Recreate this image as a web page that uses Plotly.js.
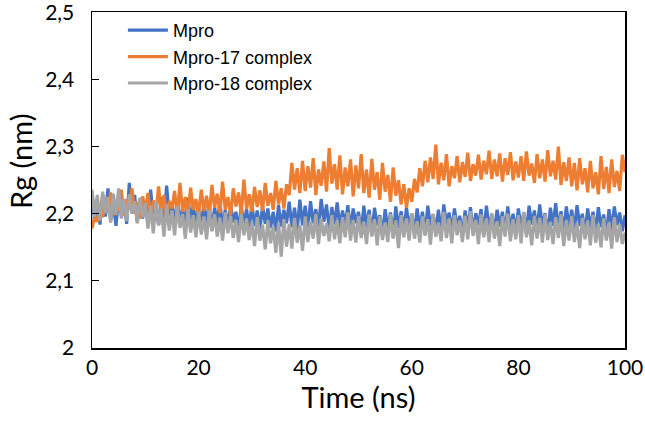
<!DOCTYPE html>
<html>
<head>
<meta charset="utf-8">
<script src="https://cdn.plot.ly/plotly-3.0.1.min.js"></script>
<style>
  body { margin: 0; background: #fff; }
  #chart { width: 645px; height: 424px; }
</style>
</head>
<body>
<div id="chart"></div>
<script>
// Rg over 100 ns, every 0.5 ns
var time = [
  0,0.5,1,1.5,2,2.5,3,3.5,4,4.5,5,5.5,6,6.5,7,7.5,8,8.5,9,9.5,
  10,10.5,11,11.5,12,12.5,13,13.5,14,14.5,15,15.5,16,16.5,17,17.5,18,18.5,19,19.5,
  20,20.5,21,21.5,22,22.5,23,23.5,24,24.5,25,25.5,26,26.5,27,27.5,28,28.5,29,29.5,
  30,30.5,31,31.5,32,32.5,33,33.5,34,34.5,35,35.5,36,36.5,37,37.5,38,38.5,39,39.5,
  40,40.5,41,41.5,42,42.5,43,43.5,44,44.5,45,45.5,46,46.5,47,47.5,48,48.5,49,49.5,
  50,50.5,51,51.5,52,52.5,53,53.5,54,54.5,55,55.5,56,56.5,57,57.5,58,58.5,59,59.5,
  60,60.5,61,61.5,62,62.5,63,63.5,64,64.5,65,65.5,66,66.5,67,67.5,68,68.5,69,69.5,
  70,70.5,71,71.5,72,72.5,73,73.5,74,74.5,75,75.5,76,76.5,77,77.5,78,78.5,79,79.5,
  80,80.5,81,81.5,82,82.5,83,83.5,84,84.5,85,85.5,86,86.5,87,87.5,88,88.5,89,89.5,
  90,90.5,91,91.5,92,92.5,93,93.5,94,94.5,95,95.5,96,96.5,97,97.5,98,98.5,99,99.5,
  100
];

var mpro = [
  2.232,2.188,2.221,2.184,2.229,2.196,2.238,2.19,2.214,2.182,2.226,2.197,2.219,2.185,2.246,2.201,2.228,2.188,2.222,2.193,
  2.218,2.186,2.236,2.194,2.212,2.183,2.225,2.19,2.242,2.197,2.215,2.184,2.221,2.188,2.209,2.179,2.224,2.191,2.213,2.185,
  2.208,2.18,2.217,2.186,2.212,2.175,2.21,2.184,2.219,2.178,2.206,2.181,2.214,2.187,2.203,2.176,2.211,2.183,2.207,2.178,
  2.215,2.182,2.205,2.176,2.212,2.185,2.208,2.179,2.203,2.174,2.213,2.181,2.206,2.186,2.218,2.18,2.209,2.175,2.221,2.183,
  2.212,2.178,2.219,2.186,2.207,2.181,2.222,2.188,2.214,2.176,2.21,2.184,2.217,2.179,2.205,2.182,2.213,2.175,2.208,2.186,
  2.203,2.172,2.212,2.18,2.206,2.168,2.209,2.183,2.198,2.17,2.207,2.176,2.202,2.165,2.211,2.179,2.204,2.174,2.209,2.181,
  2.2,2.171,2.208,2.178,2.203,2.168,2.212,2.182,2.199,2.175,2.206,2.17,2.214,2.184,2.202,2.173,2.208,2.179,2.197,2.169,
  2.205,2.177,2.21,2.172,2.201,2.183,2.207,2.168,2.212,2.178,2.199,2.174,2.206,2.181,2.203,2.17,2.211,2.176,2.2,2.173,
  2.208,2.179,2.202,2.171,2.212,2.184,2.205,2.174,2.214,2.18,2.201,2.169,2.209,2.182,2.216,2.177,2.204,2.173,2.211,2.18,
  2.206,2.175,2.213,2.182,2.2,2.17,2.208,2.178,2.203,2.172,2.21,2.18,2.199,2.168,2.207,2.176,2.211,2.183,2.202,2.174,
  2.198
];

var mpro17 = [
  2.178,2.196,2.188,2.212,2.195,2.224,2.201,2.232,2.198,2.219,2.204,2.236,2.197,2.222,2.206,2.238,2.2,2.218,2.193,2.226,
  2.205,2.231,2.196,2.22,2.202,2.241,2.199,2.228,2.194,2.219,2.208,2.234,2.197,2.246,2.203,2.225,2.198,2.239,2.206,2.222,
  2.199,2.236,2.204,2.227,2.196,2.243,2.209,2.23,2.201,2.248,2.206,2.225,2.198,2.238,2.211,2.232,2.2,2.251,2.207,2.229,
  2.203,2.24,2.21,2.235,2.204,2.246,2.212,2.231,2.206,2.249,2.214,2.238,2.208,2.244,2.228,2.276,2.236,2.268,2.231,2.279,
  2.234,2.271,2.239,2.283,2.228,2.266,2.242,2.278,2.233,2.298,2.245,2.274,2.236,2.287,2.229,2.269,2.241,2.281,2.226,2.272,
  2.238,2.289,2.231,2.266,2.224,2.282,2.236,2.262,2.221,2.276,2.233,2.258,2.218,2.269,2.227,2.25,2.214,2.244,2.209,2.238,
  2.218,2.252,2.232,2.268,2.241,2.279,2.247,2.284,2.252,2.303,2.244,2.276,2.25,2.289,2.241,2.271,2.253,2.286,2.247,2.277,
  2.255,2.291,2.249,2.274,2.257,2.288,2.251,2.279,2.259,2.294,2.252,2.281,2.256,2.29,2.248,2.283,2.258,2.292,2.25,2.278,
  2.254,2.286,2.249,2.293,2.257,2.275,2.246,2.289,2.253,2.281,2.248,2.295,2.256,2.279,2.251,2.3,2.243,2.277,2.249,2.284,
  2.241,2.276,2.235,2.283,2.244,2.268,2.232,2.279,2.238,2.262,2.229,2.286,2.237,2.27,2.231,2.281,2.24,2.264,2.234,2.288,
  2.262
];

var mpro18 = [
  2.236,2.196,2.228,2.19,2.233,2.201,2.225,2.187,2.23,2.198,2.238,2.193,2.222,2.189,2.229,2.2,2.219,2.186,2.224,2.195,
  2.216,2.178,2.212,2.171,2.219,2.183,2.208,2.166,2.214,2.175,2.205,2.168,2.211,2.179,2.2,2.163,2.207,2.172,2.198,2.165,
  2.203,2.169,2.196,2.162,2.205,2.174,2.199,2.166,2.194,2.16,2.202,2.171,2.197,2.164,2.191,2.158,2.2,2.168,2.193,2.161,
  2.188,2.152,2.195,2.16,2.184,2.147,2.19,2.156,2.181,2.142,2.187,2.136,2.192,2.151,2.185,2.148,2.194,2.157,2.183,2.145,
  2.196,2.158,2.189,2.163,2.2,2.155,2.193,2.167,2.186,2.159,2.198,2.162,2.19,2.156,2.195,2.165,2.202,2.16,2.191,2.157,
  2.197,2.164,2.188,2.155,2.199,2.166,2.192,2.153,2.196,2.161,2.187,2.158,2.2,2.163,2.19,2.149,2.198,2.165,2.193,2.16,
  2.201,2.163,2.189,2.157,2.196,2.168,2.192,2.154,2.2,2.166,2.187,2.159,2.203,2.164,2.193,2.156,2.198,2.168,2.19,2.158,
  2.197,2.162,2.204,2.167,2.191,2.155,2.199,2.165,2.193,2.158,2.201,2.163,2.189,2.152,2.196,2.166,2.2,2.159,2.192,2.162,
  2.198,2.156,2.203,2.165,2.19,2.153,2.197,2.163,2.194,2.157,2.2,2.161,2.188,2.155,2.195,2.164,2.199,2.152,2.191,2.16,
  2.197,2.158,2.186,2.149,2.194,2.162,2.19,2.153,2.198,2.157,2.185,2.15,2.193,2.16,2.188,2.148,2.195,2.158,2.184,2.155,
  2.172
];

var names = ["Mpro", "Mpro-17 complex", "Mpro-18 complex"];
var colors = ["#4472C4", "#ED7D31", "#A5A5A5"];
var yTicks = [2, 2.1, 2.2, 2.3, 2.4, 2.5];
var xTicks = [0, 20, 40, 60, 80, 100];

var series = [mpro, mpro17, mpro18];
var data = series.map(function(ys, i) {
    return {
        x: time,
        y: ys,
        name: names[i],
        type: "scatter",
        mode: "lines",
        line: {color: colors[i], width: 3.2}
    };
});

var layout = {
    width: 645,
    height: 424,
    margin: {l: 92, r: 20, t: 12, b: 76},
    paper_bgcolor: "#fff",
    plot_bgcolor: "#fff",
    separators: ",.",
    showlegend: true,
    legend: {
        x: 0.058, y: 1.0, xanchor: "left", yanchor: "top",
        bgcolor: "rgba(0,0,0,0)",
        itemwidth: 40,
        font: {family: "Liberation Sans, Arial, sans-serif", size: 18, color: "#000"},
        tracegroupgap: 0
    },
    xaxis: {
        range: [0, 100],
        tickvals: xTicks,
        showgrid: false,
        zeroline: false,
        showline: true,
        linecolor: "#000",
        linewidth: 1.5,
        mirror: true,
        ticks: "",
        tickfont: {family: "Lato, sans-serif", size: 21, color: "#000"},
        title: {text: "Time (ns)", font: {family: "Lato, sans-serif", size: 29, color: "#000"}, standoff: 5}
    },
    yaxis: {
        range: [2, 2.5008],
        tickvals: yTicks,
        showgrid: false,
        zeroline: false,
        showline: true,
        linecolor: "#000",
        linewidth: 1.5,
        mirror: true,
        ticks: "inside",
        ticklen: 7,
        tickcolor: "#000",
        ticklabelstandoff: 12,
        ticklabeloverflow: "allow",
        tickfont: {family: "Lato, sans-serif", size: 21, color: "#000"}
    },
    annotations: [{
        text: "Rg (nm)",
        xref: "paper", yref: "paper",
        x: -0.133, y: 0.554,
        xanchor: "center", yanchor: "middle",
        textangle: -90,
        showarrow: false,
        font: {family: "Lato, sans-serif", size: 29, color: "#000"}
    }]
};

Plotly.newPlot("chart", data, layout, {displayModeBar: false, staticPlot: true});
</script>
</body>
</html>
